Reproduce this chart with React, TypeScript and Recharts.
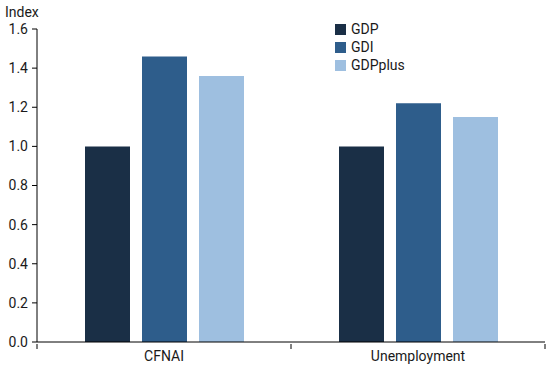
import React from "react";
import { BarChart, Bar, XAxis, YAxis, Legend } from "recharts";

const categories = ["CFNAI", "Unemployment"];
const seriesNames = ["GDP", "GDI", "GDPplus"];
const gdp = [1.0, 1.0];
const gdi = [1.46, 1.22];
const gdpplus = [1.36, 1.15];
const yTicks = [0, 0.2, 0.4, 0.6, 0.8, 1.0, 1.2, 1.4, 1.6];

const data = categories.map((c, i) => ({ name: c, GDP: gdp[i], GDI: gdi[i], GDPplus: gdpplus[i] }));

const colors: Record<string, string> = { GDP: "#1a2f46", GDI: "#2e5d8b", GDPplus: "#9ebfe0" };
const font = "Roboto, 'Noto Sans', sans-serif";
const textColor = "#1a1a1a";

const renderLegend = (props: any) => {
  const { payload } = props;
  const items = seriesNames
    .map((n) => payload.find((p: any) => p.value === n || p.dataKey === n))
    .filter(Boolean);
  return (
    <div style={{ fontFamily: font, fontSize: 14, color: textColor, whiteSpace: "nowrap", width: 120 }}>
      {items.map((p: any) => (
        <div key={p.value} style={{ display: "flex", alignItems: "center", height: 18 }}>
          <span style={{ display: "inline-block", flexShrink: 0, width: 11, height: 11, background: p.color, marginRight: 5 }} />
          <span>{p.value}</span>
        </div>
      ))}
    </div>
  );
};

const CategoryTick = (props: any) => {
  const { x, y, width, visibleTicksCount, index, payload } = props;
  const band = width / (visibleTicksCount || categories.length);
  const left = x - band / 2;
  const right = x + band / 2;
  const top = y - 2;
  return (
    <g>
      <line x1={left} x2={left} y1={top} y2={top + 5} stroke="#000" />
      {index === (visibleTicksCount || categories.length) - 1 && (
        <line x1={right} x2={right} y1={top} y2={top + 5} stroke="#000" />
      )}
      <text x={x} y={y + 15} textAnchor="middle" fontFamily={font} fontSize={14} fill={textColor}>
        {payload.value}
      </text>
    </g>
  );
};

export default function App() {
  return (
    <div style={{ position: "absolute", left: 0, top: 0, width: 550, height: 365, background: "#fff" }}>
      <BarChart width={550} height={365} data={data} margin={{ top: 29, right: 5, bottom: 0, left: 0 }} barSize={45} barGap={12}>
        <text x={5} y={17} fontFamily={font} fontSize={14} fill={textColor}>Index</text>
        <XAxis
          dataKey="name"
          axisLine={{ stroke: "#000" }}
          tickLine={false}
          tick={<CategoryTick />}
          height={23}
          tickSize={2}
          interval={0}
        />
        <YAxis
          domain={[0, 1.6]}
          ticks={yTicks}
          tickFormatter={(v: number) => v.toFixed(1)}
          axisLine={{ stroke: "#000" }}
          tickLine={{ stroke: "#000" }}
          tick={{ fill: textColor, fontSize: 14, fontFamily: font, dx: -2 }}
          width={37}
          tickSize={5}
          interval={0}
        />
        <Legend
          layout="vertical"
          verticalAlign="top"
          align="left"
          content={renderLegend}
          wrapperStyle={{ top: 20, left: 335, width: 0, height: 0, overflow: "visible" }}
        />
        <Bar dataKey="GDP" fill={colors.GDP} isAnimationActive={false} />
        <Bar dataKey="GDI" fill={colors.GDI} isAnimationActive={false} />
        <Bar dataKey="GDPplus" fill={colors.GDPplus} isAnimationActive={false} />
      </BarChart>
    </div>
  );
}
